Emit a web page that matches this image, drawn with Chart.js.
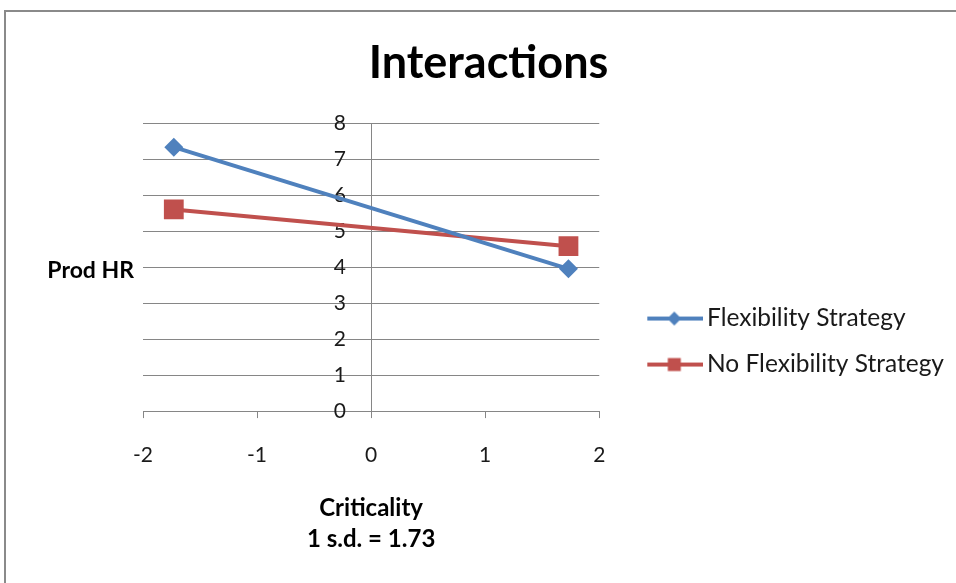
<!DOCTYPE html>
<html>
<head>
<meta charset="utf-8">
<script src="https://cdn.jsdelivr.net/npm/chart.js@4.4.1/dist/chart.umd.min.js"></script>
<style>
  html, body { margin: 0; padding: 0; background: #fff; }
  #frame { position: absolute; left: 4px; top: 10px; width: 1000px; height: 700px;
           border-left: 2px solid #8a8a8a; border-top: 2px solid #8a8a8a; }
  #chart { position: absolute; left: 0; top: 0; }
</style>
</head>
<body>
<div id="frame"></div>
<canvas id="chart" width="956" height="583"></canvas>
<script>
// data
const criticality = [-1.73, 1.73];
const flexibility = [7.33, 3.95];
const noFlexibility = [5.6, 4.58];
const seriesNames = ['Flexibility Strategy', 'No Flexibility Strategy'];
const xTicks = [-2, -1, 0, 1, 2];
const yTicks = [0, 1, 2, 3, 4, 5, 6, 7, 8];
const yAxisName = 'Prod HR';
const yAxisNameAt = 3.9;

const BLUE = '#4F81BD';
const RED = '#C0504D';
const GRID = '#868686';
const FONT = 'Lato';
const TXT = '#1a1a1a';

// legend icon: line with the marker on it (right part of the image)
function legendIcon(color, style) {
  const c = document.createElement('canvas');
  c.width = 91; c.height = 24;
  const g = c.getContext('2d');
  g.strokeStyle = color;
  g.lineWidth = 4;
  g.beginPath(); g.moveTo(35, 12); g.lineTo(91, 12); g.stroke();
  g.fillStyle = color;
  if (style === 'rectRot') {
    g.beginPath();
    g.moveTo(62, 5); g.lineTo(69, 12); g.lineTo(62, 19); g.lineTo(55, 12);
    g.closePath(); g.fill();
  } else {
    g.fillRect(55.5, 5.5, 13, 13);
  }
  return c;
}

function points(ys) {
  return criticality.map((x, i) => ({ x: x, y: ys[i] }));
}

const yRange = {
  type: 'linear',
  min: yTicks[0],
  max: yTicks[yTicks.length - 1],
  afterBuildTicks(scale) { scale.ticks = yTicks.map(v => ({ value: v })); }
};

new Chart(document.getElementById('chart'), {
  type: 'scatter',
  data: {
    datasets: [{
      label: seriesNames[0],
      data: points(flexibility),
      showLine: true,
      borderColor: BLUE,
      backgroundColor: BLUE,
      borderWidth: 4,
      pointStyle: 'rectRot',
      pointRadius: 9.5,
      pointHoverRadius: 9.5,
      pointBorderWidth: 0,
      icon: legendIcon(BLUE, 'rectRot')
    }, {
      label: seriesNames[1],
      data: points(noFlexibility),
      showLine: true,
      borderColor: RED,
      backgroundColor: RED,
      borderWidth: 4,
      pointStyle: 'rect',
      pointRadius: 14,
      pointHoverRadius: 14,
      pointBorderWidth: 0,
      icon: legendIcon(RED, 'rect')
    }]
  },
  options: {
    responsive: false,
    animation: false,
    layout: { padding: { left: 23, right: 2, top: 0, bottom: 28 } },
    plugins: {
      title: {
        display: true,
        text: 'Interactions',
        color: '#000',
        font: { family: FONT, size: 45, weight: 'bold', lineHeight: 1.2 },
        padding: { top: 36, bottom: 33 }
      },
      legend: {
        position: 'right',
        fullSize: false,
        maxWidth: 420,
        title: { display: true, text: ' ', font: { size: 10, lineHeight: 1 }, padding: { top: 0, bottom: 139 } },
        labels: {
          usePointStyle: true,
          pointStyleWidth: 74,
          padding: 21.5,
          color: TXT,
          font: { family: FONT, size: 24.5 },
          generateLabels(chart) {
            return chart.data.datasets.map((ds, i) => ({
              text: ds.label,
              pointStyle: ds.icon,
              fillStyle: ds.backgroundColor,
              strokeStyle: ds.borderColor,
              fontColor: TXT,
              lineWidth: 0,
              datasetIndex: i
            }));
          }
        }
      },
      tooltip: { enabled: false }
    },
    scales: {
      x: {
        type: 'linear',
        position: 'bottom',
        min: xTicks[0],
        max: xTicks[xTicks.length - 1],
        afterBuildTicks(scale) { scale.ticks = xTicks.map(v => ({ value: v })); },
        grid: { drawOnChartArea: false, drawTicks: true, tickLength: 7, tickColor: GRID, lineWidth: 1 },
        border: { display: true, color: GRID, width: 1 },
        ticks: { color: TXT, font: { family: FONT, size: 21, lineHeight: 1 }, padding: 27 },
        title: {
          display: true,
          text: ['Criticality', '1 s.d. = 1.73'],
          color: '#000',
          font: { family: FONT, size: 24, weight: 'bold', lineHeight: 1.29 },
          padding: { top: 0, bottom: 0 }
        }
      },
      // gridlines and the vertical axis line at x = 0
      y: Object.assign({}, yRange, {
        position: { x: 0 },
        grid: { color: GRID, lineWidth: 1, drawTicks: false },
        border: { display: true, color: GRID, width: 1 },
        ticks: { display: false }
      }),
      // numbers of the vertical axis, just left of the axis line
      yNums: Object.assign({}, yRange, {
        position: { x: -0.22 },
        grid: { display: false, drawTicks: false },
        border: { display: false },
        ticks: { color: TXT, font: { family: FONT, size: 21 }, padding: 0 }
      }),
      // name of the vertical axis, written level on the left
      yName: {
        type: 'linear',
        position: 'left',
        min: yTicks[0],
        max: yTicks[yTicks.length - 1],
        afterBuildTicks(scale) { scale.ticks = [{ value: yAxisNameAt }]; },
        afterFit(scale) { scale.width = 120; },
        grid: { display: false, drawTicks: false },
        border: { display: false },
        ticks: {
          color: '#000',
          font: { family: FONT, size: 23, weight: 'bold' },
          padding: 9,
          callback: () => yAxisName
        }
      }
    }
  }
});
</script>
</body>
</html>
